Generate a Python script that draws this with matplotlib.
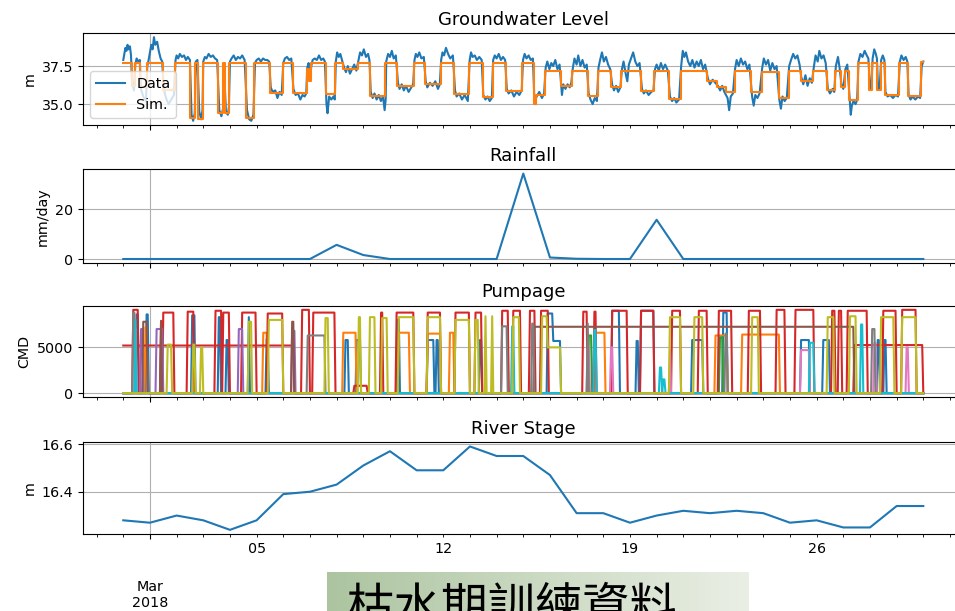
import numpy as np
import pandas as pd
import matplotlib
matplotlib.use("Agg")
import matplotlib.pyplot as plt
import matplotlib.dates as mdates
from matplotlib.ticker import MultipleLocator, FuncFormatter

plt.rcParams["font.family"] = ["DejaVu Sans", "Noto Sans CJK TC"]

START = pd.Timestamp("2018-02-28")
DAILY = pd.date_range("2018-02-28", "2018-03-30", freq="D")
HOURLY = pd.date_range("2018-02-28", "2018-03-30", freq="h")

# ---- daily records, Feb 28 .. Mar 30 ----
RAIN = [0, 0, 0, 0, 0, 0, 0, 0, 5.7, 1.6, 0, 0, 0, 0, 0, 34.4,
        0.6, 0.1, 0, 0, 15.8, 0, 0, 0, 0, 0, 0, 0, 0, 0, 0]
RIVER = [16.28, 16.27, 16.30, 16.28, 16.24, 16.28, 16.39, 16.40, 16.43, 16.51,
         16.57, 16.49, 16.49, 16.59, 16.55, 16.55, 16.47, 16.31, 16.31, 16.27,
         16.30, 16.32, 16.31, 16.32, 16.31, 16.27, 16.28, 16.25, 16.25, 16.34,
         16.34]

# ---- groundwater: simulated level, step changes (day offset, level) ----
SIM = [(0.00, 37.72), (0.31, 36.2), (0.44, 37.72), (0.63, 36.1), (0.88, 37.72),
       (1.50, 35.9), (1.94, 37.72), (2.52, 34.1), (2.69, 37.72), (2.82, 34.0),
       (2.98, 37.72), (3.56, 34.4), (3.75, 37.72), (3.80, 34.4), (3.98, 37.72),
       (4.60, 34.1), (4.92, 37.72), (5.50, 35.7), (5.98, 37.72), (6.35, 35.7),
       (6.88, 37.3), (6.98, 36.5), (7.05, 37.72), (7.60, 35.65), (7.95, 37.72),
       (8.25, 37.28), (8.80, 37.72), (9.25, 35.5), (9.82, 37.72), (10.28, 36.2),
       (10.90, 37.72), (11.32, 36.3), (11.90, 37.72), (12.42, 35.65), (12.97, 37.72),
       (13.48, 35.44), (13.85, 37.72), (14.35, 35.85), (14.97, 37.72), (15.40, 35.0),
       (15.46, 35.6), (15.82, 37.2), (16.42, 36.2), (16.84, 37.2), (17.42, 35.5),
       (17.80, 37.2), (18.30, 36.1), (18.68, 37.2), (19.42, 35.85), (19.92, 37.2),
       (20.48, 35.35), (20.90, 37.2), (21.90, 36.5), (22.28, 36.1), (22.62, 35.8),
       (22.92, 37.2), (23.55, 35.8), (23.94, 37.1), (24.58, 35.4), (24.95, 37.2),
       (25.40, 36.5), (25.88, 37.2), (26.40, 35.9), (26.70, 37.2), (26.90, 36.1),
       (27.05, 37.2), (27.22, 35.3), (27.55, 37.72), (27.97, 35.9), (28.08, 37.72),
       (28.28, 35.9), (28.40, 37.72), (28.56, 35.6), (29.10, 37.72), (29.42, 35.55),
       (29.92, 37.75), (30.00, 37.75)]

# ---- groundwater: observed level (day offset, level) ----
OBS = [(0.0, 37.9), (0.04, 38.3), (0.08, 38.7), (0.12, 38.5), (0.16, 38.9), (0.2, 38.6),
       (0.25, 38.8), (0.29, 38.2), (0.33, 36.4), (0.4, 35.9), (0.45, 37.6), (0.5, 38.0),
       (0.56, 37.8), (0.62, 37.9), (0.66, 36.0), (0.75, 35.5), (0.85, 35.2), (0.9, 37.5),
       (0.95, 37.9), (1.0, 38.4), (1.05, 38.9), (1.1, 38.6), (1.15, 39.4), (1.2, 38.9),
       (1.27, 39.1), (1.33, 38.5), (1.4, 38.0), (1.46, 37.8), (1.52, 36.0), (1.6, 35.4),
       (1.7, 35.0), (1.8, 35.3), (1.9, 35.6),
       (1.96, 37.9), (2.0, 38.2), (2.06, 38.0), (2.12, 38.3), (2.2, 38.1), (2.28, 38.2),
       (2.35, 37.9), (2.42, 38.1), (2.5, 37.9), (2.56, 34.3), (2.62, 33.9), (2.68, 34.4),
       (2.72, 37.8), (2.78, 37.9), (2.85, 34.5), (2.92, 34.0), (2.97, 34.6),
       (3.0, 37.8), (3.06, 38.1), (3.12, 38.0), (3.2, 38.3), (3.28, 38.1), (3.36, 38.2),
       (3.44, 38.0), (3.52, 37.9), (3.6, 34.6), (3.68, 34.2), (3.74, 34.7), (3.77, 37.6),
       (3.85, 34.5), (3.92, 34.3), (3.96, 34.8),
       (4.0, 37.8), (4.06, 38.0), (4.14, 38.2), (4.22, 37.9), (4.3, 38.1), (4.38, 38.0),
       (4.46, 38.2), (4.55, 37.9), (4.64, 34.6), (4.72, 34.0), (4.8, 33.9), (4.88, 34.3),
       (4.94, 37.7), (5.0, 37.9), (5.08, 38.0), (5.16, 37.8), (5.24, 38.0), (5.32, 37.9),
       (5.4, 37.9), (5.47, 37.8), (5.53, 36.1), (5.6, 35.8), (5.7, 35.9), (5.78, 35.4),
       (5.86, 35.8), (5.94, 35.6),
       (6.0, 37.7), (6.06, 38.0), (6.14, 38.1), (6.22, 37.9), (6.3, 38.0), (6.38, 36.0),
       (6.46, 35.6), (6.55, 35.7), (6.64, 35.3), (6.72, 35.6), (6.8, 35.5), (6.86, 35.7),
       (6.9, 37.4), (6.95, 37.7), (7.0, 36.6),
       (7.05, 37.5), (7.1, 37.9), (7.18, 38.0), (7.26, 37.9), (7.34, 38.2), (7.42, 37.9),
       (7.5, 38.0), (7.56, 37.8), (7.62, 35.0), (7.66, 34.4), (7.72, 35.5), (7.8, 35.3),
       (7.88, 35.5), (7.93, 35.3),
       (7.97, 37.8), (8.02, 38.4), (8.08, 38.1), (8.14, 38.3), (8.2, 37.9), (8.28, 37.4),
       (8.35, 37.1), (8.42, 37.5), (8.5, 37.0), (8.58, 37.3), (8.66, 37.6), (8.74, 37.2),
       (8.82, 37.9), (8.88, 38.4), (8.95, 38.2),
       (9.02, 38.6), (9.1, 38.1), (9.18, 38.3), (9.23, 37.9), (9.28, 35.8), (9.35, 35.4),
       (9.42, 35.7), (9.5, 35.3), (9.58, 35.6), (9.66, 35.2), (9.74, 35.5), (9.8, 34.6),
       (9.84, 35.3),
       (9.86, 37.8), (9.93, 38.3), (10.0, 38.1), (10.07, 38.5), (10.14, 38.0), (10.22, 38.2),
       (10.3, 36.4), (10.36, 36.0), (10.44, 36.3), (10.52, 35.9), (10.6, 36.2), (10.7, 35.8),
       (10.8, 36.1), (10.87, 36.3),
       (10.92, 37.9), (10.97, 38.3), (11.03, 38.1), (11.1, 38.4), (11.18, 38.0), (11.27, 38.1),
       (11.34, 36.5), (11.4, 36.1), (11.5, 36.4), (11.6, 36.2), (11.7, 36.5), (11.8, 36.0),
       (11.87, 36.3),
       (11.92, 37.9), (11.97, 38.4), (12.03, 38.2), (12.1, 38.7), (12.18, 38.3), (12.26, 38.0),
       (12.36, 38.2), (12.44, 35.9), (12.5, 35.5), (12.6, 35.7), (12.7, 35.3), (12.8, 35.6),
       (12.92, 35.2),
       (12.99, 37.9), (13.04, 38.4), (13.1, 38.1), (13.18, 38.2), (13.26, 37.9), (13.35, 38.1),
       (13.44, 37.9), (13.5, 35.6), (13.58, 35.3), (13.66, 35.5), (13.74, 35.2), (13.82, 35.4),
       (13.87, 37.9), (13.93, 38.2), (14.0, 38.0), (14.08, 38.3), (14.16, 37.9), (14.24, 38.1),
       (14.32, 37.9), (14.38, 36.0), (14.45, 35.7), (14.55, 35.9), (14.65, 35.5), (14.75, 35.8),
       (14.85, 35.6), (14.94, 35.9),
       (14.99, 37.9), (15.05, 38.3), (15.12, 38.0), (15.2, 38.2), (15.28, 37.9), (15.36, 38.0),
       (15.42, 35.1), (15.5, 35.5), (15.6, 35.8), (15.7, 35.4), (15.78, 35.7),
       (15.84, 37.4), (15.9, 37.8), (15.98, 37.3), (16.05, 37.7), (16.12, 37.5), (16.2, 37.9),
       (16.28, 37.3), (16.36, 37.6), (16.45, 35.6), (16.5, 36.3), (16.58, 36.0), (16.66, 36.3),
       (16.74, 36.1), (16.8, 36.4),
       (16.86, 37.4), (16.92, 38.0), (17.0, 37.6), (17.06, 38.2), (17.14, 37.5), (17.22, 37.9),
       (17.3, 37.4), (17.38, 37.6), (17.45, 35.7), (17.52, 35.3), (17.6, 35.0), (17.68, 35.4),
       (17.76, 35.2),
       (17.82, 37.4), (17.88, 37.9), (17.95, 38.4), (18.02, 37.8), (18.1, 38.1), (18.18, 37.6),
       (18.26, 37.3), (18.33, 36.3), (18.4, 35.9), (18.48, 36.2), (18.56, 35.8), (18.64, 36.1),
       (18.7, 37.3), (18.76, 37.8), (18.84, 37.0), (18.9, 36.5), (18.96, 37.6), (19.04, 38.0),
       (19.12, 38.4), (19.2, 37.8), (19.28, 37.5), (19.36, 37.7), (19.45, 36.0), (19.52, 35.7),
       (19.6, 35.9), (19.7, 35.6), (19.8, 35.8), (19.88, 35.9),
       (19.94, 37.3), (20.0, 37.6), (20.08, 37.2), (20.16, 37.7), (20.24, 37.3), (20.32, 37.6),
       (20.42, 37.2), (20.5, 35.5), (20.58, 35.2), (20.66, 35.4), (20.74, 35.1), (20.84, 35.3),
       (20.92, 37.5), (20.98, 38.5), (21.04, 38.1), (21.1, 38.4), (21.18, 37.8), (21.26, 37.5),
       (21.34, 37.9), (21.42, 37.4), (21.5, 37.8), (21.58, 37.5), (21.66, 37.9), (21.74, 37.3),
       (21.82, 37.6), (21.92, 36.7),
       (22.0, 36.3), (22.1, 36.6), (22.2, 36.4), (22.3, 36.2), (22.38, 35.9), (22.46, 36.2),
       (22.54, 35.8), (22.66, 35.4), (22.72, 34.6), (22.78, 35.5), (22.86, 35.7),
       (22.94, 37.3), (23.0, 37.9), (23.08, 37.5), (23.16, 38.0), (23.24, 37.6), (23.32, 37.8),
       (23.4, 37.3), (23.48, 37.6), (23.58, 35.5), (23.64, 34.9), (23.7, 35.6), (23.78, 35.4),
       (23.86, 35.7),
       (23.96, 37.4), (24.02, 38.0), (24.1, 37.6), (24.18, 37.9), (24.26, 37.2), (24.34, 37.7),
       (24.42, 37.3), (24.5, 37.5), (24.6, 35.3), (24.66, 34.7), (24.72, 35.5), (24.8, 35.2),
       (24.88, 35.4),
       (24.97, 37.5), (25.04, 37.9), (25.12, 38.3), (25.2, 38.0), (25.28, 38.2), (25.36, 37.6),
       (25.42, 36.8), (25.5, 36.3), (25.58, 36.9), (25.66, 36.2), (25.74, 36.7), (25.82, 36.4),
       (25.9, 37.5), (25.96, 38.2), (26.04, 37.8), (26.1, 38.5), (26.18, 38.0), (26.26, 38.2),
       (26.34, 37.7), (26.42, 36.0), (26.5, 35.7), (26.6, 36.0), (26.66, 35.8), (26.72, 37.5),
       (26.8, 38.1), (26.86, 37.4), (26.93, 36.3),
       (27.0, 36.0), (27.08, 37.3), (27.15, 37.6), (27.25, 35.0), (27.28, 34.3), (27.32, 34.9),
       (27.38, 35.2), (27.46, 35.0), (27.52, 35.3), (27.57, 37.8), (27.64, 38.3), (27.72, 38.1),
       (27.8, 38.5), (27.88, 38.2), (27.94, 38.0),
       (28.0, 36.1), (28.05, 36.0), (28.1, 38.0), (28.16, 38.6), (28.22, 38.3), (28.26, 38.0),
       (28.3, 36.2), (28.36, 36.0), (28.42, 37.9), (28.48, 38.2), (28.54, 37.9), (28.58, 35.8),
       (28.66, 35.5), (28.76, 35.6), (28.86, 35.4), (28.96, 35.6),
       (29.05, 35.5), (29.12, 37.8), (29.18, 38.2), (29.26, 37.9), (29.34, 38.1), (29.4, 37.8),
       (29.45, 35.6), (29.52, 35.3), (29.6, 35.5), (29.7, 35.3), (29.8, 35.5), (29.88, 35.4),
       (29.94, 37.5), (30.0, 37.8)]

# ---- pumping schedules: (start day, end day, rate CMD) ----
WELL_A = [(0.85, 0.95, 8600), (0.50, 0.56, 8600), (2.56, 2.69, 8500), (3.56, 3.63, 8300),
          (3.86, 3.92, 5800), (4.69, 4.75, 8300), (5.36, 5.42, 5900), (8.31, 8.44, 5800),
          (8.75, 8.88, 5800), (10.28, 10.34, 8000), (11.38, 11.63, 5800), (11.72, 11.8, 5800),
          (13.36, 13.45, 5800), (15.88, 16.1, 8700), (16.1, 16.38, 5700), (18.31, 18.6, 9000),
          (19.25, 19.33, 5700), (19.38, 19.88, 9000), (21.3, 21.75, 5800), (22.5, 22.63, 8800),
          (25.38, 25.75, 5800), (26.25, 26.5, 5800), (28.28, 28.34, 5800), (28.54, 28.6, 5800)]
WELL_B = [(0.82, 0.88, 7200), (5.25, 5.38, 6600), (8.25, 8.75, 6600), (10.31, 10.75, 6600),
          (11.38, 11.88, 6500), (12.25, 12.38, 6600), (17.7, 18.06, 6600), (22.19, 22.63, 6300),
          (23.2, 24.6, 6400)]
WELL_C = [(17.45, 17.55, 6300), (22.35, 22.5, 6100)]
WELL_D = [(0.35, 0.56, 9100), (1.38, 1.45, 7900), (1.5, 1.88, 8800), (2.38, 2.63, 8900),
          (3.44, 3.69, 9000), (3.75, 4.0, 8800), (4.44, 5.0, 8800), (5.38, 6.0, 8700),
          (6.69, 7.0, 9100), (7.12, 7.94, 8800), (8.63, 9.13, 800), (9.63, 9.75, 8800),
          (10.25, 10.88, 8800), (11.38, 11.88, 8800), (12.44, 13.0, 8800), (13.19, 13.45, 8800),
          (14.2, 14.44, 9000), (14.6, 14.9, 9000), (15.25, 15.44, 9000), (15.63, 15.94, 9000),
          (17.25, 17.38, 8900), (17.63, 17.75, 8900), (18.3, 18.88, 9000), (19.38, 19.88, 9000),
          (20.56, 20.88, 9000), (21.56, 21.88, 9000), (22.31, 22.81, 9000), (23.44, 23.88, 9000),
          (24.5, 24.81, 9100), (25.19, 25.88, 9100), (26.56, 26.69, 9000), (26.8, 26.94, 9000),
          (27.13, 27.88, 9000), (28.5, 29.0, 9000), (29.19, 29.75, 9100)]
WELL_E = [(0.0, 6.4, 5200), (27.4, 30.0, 5250)]
WELL_F = [(0.63, 0.75, 7000), (1.25, 1.5, 7000), (4.31, 4.5, 7000), (6.31, 6.44, 6800)]
WELL_G = [(0.75, 0.88, 7800), (1.38, 1.44, 7800), (6.31, 6.38, 7800), (15.38, 27.4, 7250)]
WELL_H = [(0.44, 0.5, 7000), (17.38, 17.5, 5000), (18.28, 18.34, 5000), (20.48, 20.54, 4700),
          (25.38, 25.75, 4700), (28.16, 28.22, 5500), (29.35, 29.45, 5000)]
WELL_I = [(0.35, 0.44, 8800), (6.88, 7.56, 6300), (14.2, 14.4, 7300), (15.3, 15.4, 7600),
          (17.38, 17.44, 7600), (22.58, 22.64, 6500), (28.05, 28.2, 7000)]
WELL_J = [(0.45, 0.5, 8000), (14.56, 14.63, 7300), (17.63, 17.75, 6900), (20.12, 20.2, 2800),
          (20.22, 20.3, 1500), (25.75, 25.88, 5500), (27.63, 27.75, 7500)]
WELL_K = [(1.63, 1.81, 5300), (2.62, 2.7, 5300), (2.9, 2.97, 5000), (4.69, 4.81, 7800),
          (5.44, 6.0, 8000), (7.56, 7.69, 8200), (8.81, 8.88, 8300), (9.25, 9.44, 8300),
          (9.69, 9.88, 8200), (10.31, 10.88, 8300), (11.38, 11.88, 8300), (12.44, 13.0, 8000),
          (13.2, 13.3, 8000), (13.55, 13.62, 8400), (13.8, 13.87, 8400), (14.6, 14.87, 8300),
          (15.69, 15.88, 8400), (15.9, 16.4, 5000), (20.5, 20.88, 8300), (21.38, 21.75, 8300),
          (23.56, 23.81, 8300), (26.38, 26.63, 8300), (27.25, 27.5, 8400), (28.38, 28.88, 8300),
          (29.19, 29.75, 8300)]

# drawing order and colour of each well
WELLS = [(WELL_A, "#1f77b4"), (WELL_B, "#ff7f0e"), (WELL_C, "#2ca02c"),
         (WELL_D, "#d62728"), (WELL_E, "#d62728"), (WELL_F, "#9467bd"),
         (WELL_G, "#8c564b"), (WELL_H, "#e377c2"), (WELL_I, "#7f7f7f"),
         (WELL_J, "#17becf"), (WELL_K, "#bcbd22")]


def at(days):
    return (START + pd.to_timedelta(np.asarray(days, dtype=float), unit="D")).to_numpy()


def schedule(intervals):
    d = np.arange(len(HOURLY)) / 24.0
    q = np.zeros(len(HOURLY))
    for a, b, r in intervals:
        q[(d >= a) & (d < b)] = r
    return q


fig = plt.figure(figsize=(9.55, 6.11), dpi=100)
L, W = 0.0872, 0.9215
ax1 = fig.add_axes([L, 0.7954, W, 0.1506])
ax2 = fig.add_axes([L, 0.5691, W, 0.1538], sharex=ax1)
ax3 = fig.add_axes([L, 0.3498, W, 0.1499], sharex=ax1)
ax4 = fig.add_axes([L, 0.1260, W, 0.1501], sharex=ax1)

TS = 10.3
TT = 13
obs_d, obs_v = np.array(OBS).T
sim_d, sim_v = np.array(SIM).T
ax1.plot(at(obs_d), obs_v, color="#1f77b4", lw=1.5, label="Data")
ax1.step(at(sim_d), sim_v, where="post", color="#ff7f0e", lw=1.5, label="Sim.")
ax1.set_title("Groundwater Level", fontsize=TT)
ax1.set_ylabel("m", fontsize=TS)
ax1.yaxis.set_major_locator(MultipleLocator(2.5))
ax1.legend(loc="lower left", fontsize=TS)

ax2.plot(DAILY, RAIN, color="#1f77b4", lw=1.5)
ax2.set_title("Rainfall", fontsize=TT)
ax2.set_ylabel("mm/day", fontsize=TS)
ax2.yaxis.set_major_locator(MultipleLocator(20))

for wells, color in WELLS:
    ax3.plot(HOURLY, schedule(wells), color=color, lw=1.5)
ax3.set_title("Pumpage", fontsize=TT)
ax3.set_ylabel("CMD", fontsize=TS)
ax3.yaxis.set_major_locator(MultipleLocator(5000))

ax4.plot(DAILY, RIVER, color="#1f77b4", lw=1.5)
ax4.set_title("River Stage", fontsize=TT)
ax4.set_ylabel("m", fontsize=TS)
ax4.yaxis.set_major_locator(MultipleLocator(0.2))


def monday_label(x, pos=None):
    dt = mdates.num2date(x)
    return dt.strftime("%d") if dt.weekday() == 0 else ""


ax4.xaxis.set_major_locator(mdates.MonthLocator())
ax4.xaxis.set_major_formatter(mdates.DateFormatter("%b\n%Y"))
ax4.xaxis.set_minor_locator(mdates.DayLocator())
ax4.xaxis.set_minor_formatter(FuncFormatter(monday_label))

for ax in (ax1, ax2, ax3, ax4):
    ax.grid(True, which="major", color="#b0b0b0", lw=0.8)
    ax.tick_params(labelsize=TS)
    ax.tick_params(axis="x", which="minor", labelsize=TS)
for ax in (ax1, ax2, ax3):
    ax.tick_params(axis="x", which="both", labelbottom=False)
ax4.tick_params(axis="x", which="major", pad=29.5)

# caption banner
axb = fig.add_axes([327 / 955, 0.0, 421 / 955, 39 / 611])
c0 = np.array([172, 196, 160]) / 255
c1 = np.array([234, 239, 229]) / 255
ramp = np.linspace(0, 1, 256)[None, :, None]
axb.imshow(c0 + (c1 - c0) * ramp, aspect="auto", extent=[0, 1, 0, 1])
axb.set_axis_off()
fig.text(347 / 955, 1 - 584 / 611, "枯水期訓練資料", fontsize=34, va="top",
         ha="left", family=["Noto Sans CJK TC"], color="black")

fig.savefig("out.png", dpi=100)
